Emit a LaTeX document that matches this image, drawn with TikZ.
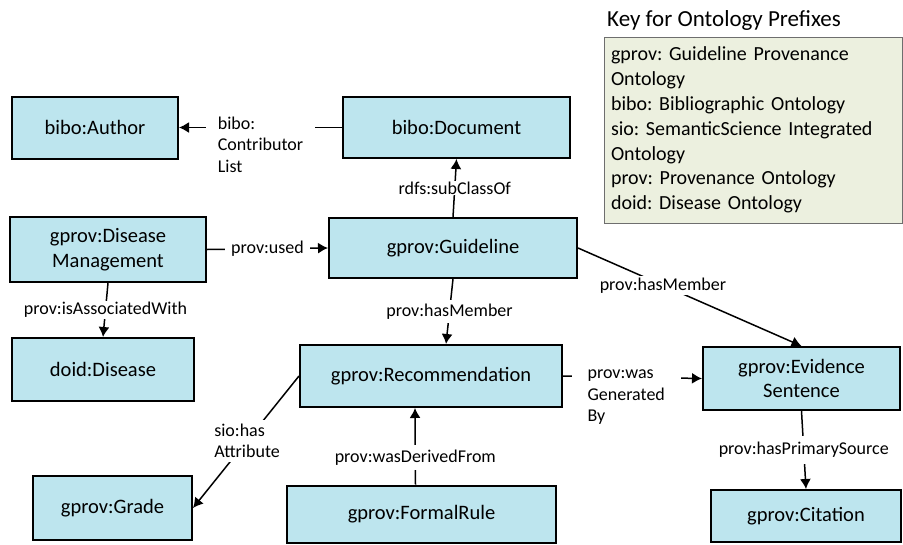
\documentclass[tikz,border=0pt]{standalone}
\usepackage{fontspec}
\setmainfont{Carlito}
\frenchspacing
\usetikzlibrary{arrows.meta,positioning,calc}
\definecolor{boxcolor}{RGB}{189,229,238}
\definecolor{keycolor}{RGB}{236,240,223}
\definecolor{keyline}{RGB}{110,110,110}

\begin{document}
\begin{tikzpicture}[
    x=1pt, y=-1pt,
    >={Latex[length=10pt,width=11pt]},
    box/.style={draw=black, line width=2pt, fill=boxcolor, align=center,
       font=\fontsize{20.5}{24.5}\selectfont, inner sep=2pt},
    lbl/.style={fill=white, align=left, font=\fontsize{18}{21.5}\selectfont,
       inner xsep=8pt, inner ysep=2pt},
    link/.style={line width=1.5pt, ->},
    keybox/.style={draw=keyline, line width=1pt, fill=keycolor, align=left,
       text width=284pt, font=\fontsize{20}{24.8}\selectfont, inner sep=7pt}
  ]
    \useasboundingbox (0,0) rectangle (903,544);

    % Classes
    \node[box, minimum width=166pt, minimum height=62pt] (author)  at (95,127.5)   {bibo:Author};
    \node[box, minimum width=227pt, minimum height=61pt] (doc)     at (456.5,127.5) {bibo:Document};
    \node[box, minimum width=196pt, minimum height=65pt] (dm)      at (108,249.5)  {gprov:Disease\\Management};
    \node[box, minimum width=248pt, minimum height=60pt] (guide)   at (453,248)    {gprov:Guideline};
    \node[box, minimum width=182pt, minimum height=63pt] (disease) at (103,369.5)  {doid:Disease};
    \node[box, minimum width=262pt, minimum height=62pt] (rec)     at (431,376)    {gprov:Recommendation};
    \node[box, minimum width=159pt, minimum height=64pt] (grade)   at (112.5,508)  {gprov:Grade};
    \node[box, minimum width=269pt, minimum height=57pt] (rule)    at (421.5,514)  {gprov:FormalRule};
    \node[box, minimum width=197pt, minimum height=63pt] (evid)    at (801.5,378.5) {gprov:Evidence\\Sentence};
    \node[box, minimum width=190pt, minimum height=52pt] (cite)    at (806,516)    {gprov:Citation};

    % Key for the prefixes
    \node[keybox, minimum height=186pt] (key) at (753,130)
      {gprov: Guideline Provenance\\Ontology\\bibo: Bibliographic Ontology\\
       sio: SemanticScience Integrated\\Ontology\\prov: Provenance Ontology\\
       doid: Disease Ontology};
    \node[anchor=west, font=\fontsize{23}{26}\selectfont, inner sep=0pt] (keytitle)
      at (607,20) {Key for Ontology Prefixes};

    % Properties
    \draw[link] (doc.west) -- node[lbl, yshift=-17pt, inner xsep=12pt]
      {bibo:\\Contributor\\List} (author.east);
    \draw[link] (guide.north) -- node[lbl, inner ysep=1pt] {rdfs:subClassOf} (doc.south);
    \draw[link] (dm.east) -- node[lbl, inner xsep=6pt] {prov:used} (guide.west);
    \draw[link] (dm.south) -- node[lbl, inner ysep=1pt] {prov:isAssociatedWith} (disease.north);
    \draw[link] (guide.south) -- node[lbl, inner ysep=4pt] {prov:hasMember} ([xshift=15pt]rec.north);
    \draw[link] (guide.east) -- node[lbl, pos=0.38] {prov:hasMember} (evid.north);
    \draw[link] (rec.east) -- node[lbl, pos=0.455, yshift=-20pt, inner xsep=16pt]
      {prov:was\\Generated\\By} (evid.west);
    \draw[link] (rec.west) -- node[lbl, pos=0.49, inner xsep=2pt, inner ysep=4pt]
      {sio:has\\Attribute} (grade.east);
    \draw[link] ([xshift=-6pt]rule.north) -- node[lbl, pos=0.35, inner ysep=5pt]
      {prov:wasDerivedFrom} ([xshift=-16pt]rec.south);
    \draw[link] (evid.south) -- node[lbl, inner ysep=6pt] {prov:hasPrimarySource} (cite.north);
  \end{tikzpicture}
\end{document}
